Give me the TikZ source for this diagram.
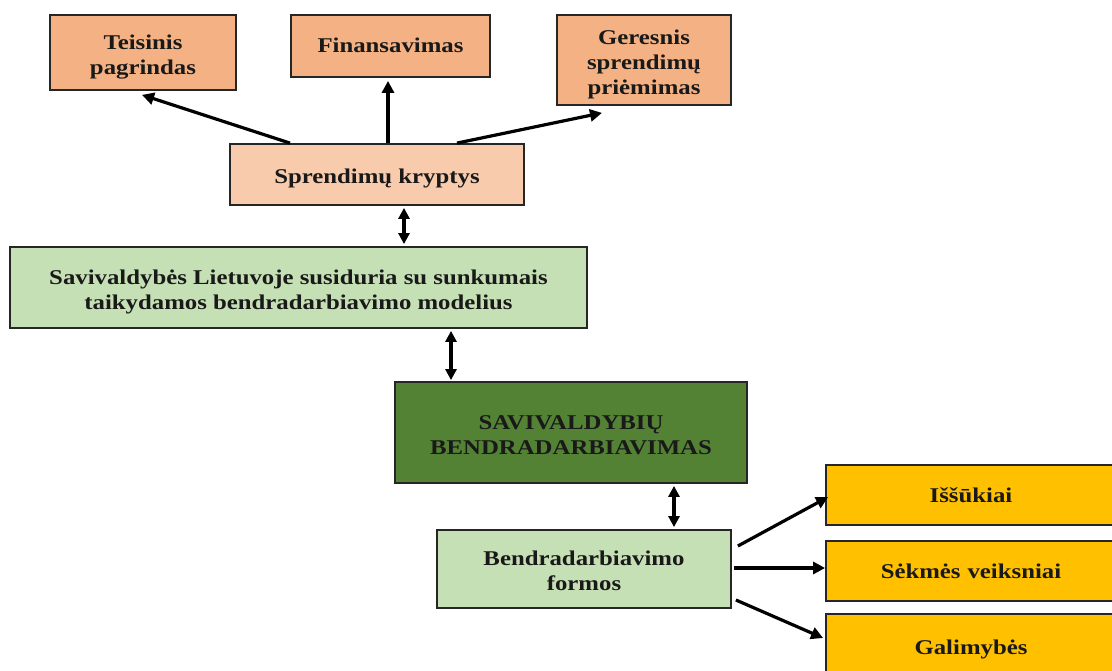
\documentclass[tikz,border=0pt]{standalone}
\usepackage{fontspec}
\setmainfont[FakeStretch=1.18]{Liberation Serif}
\usetikzlibrary{arrows.meta}
\definecolor{salmon}{HTML}{F4B183}
\definecolor{peach}{HTML}{F8CBAD}
\definecolor{lgreen}{HTML}{C5E0B4}
\definecolor{dgreen}{HTML}{548235}
\definecolor{gold}{HTML}{FFC000}
\newcommand\boxtxt[2][4pt]{\raisebox{-#1}[\height][\depth]{\begin{tabular}{@{}c@{}}#2\end{tabular}}}
\tikzset{
  box/.style={draw=black!85, line width=1.8pt, inner sep=0pt,
    font=\fontsize{21}{25}\selectfont\bfseries, text=black!90},
  arr/.style={line width=3.2pt, -{Triangle[length=12pt,width=12pt]}},
  darr/.style={line width=3.2pt, {Triangle[length=11pt,width=11pt]}-{Triangle[length=11pt,width=11pt]}}
}
\begin{document}
\begin{tikzpicture}[x=1pt,y=-1pt]
\useasboundingbox (0,0) rectangle (1112,671);
\clip (0,0) rectangle (1112,671);
\node[box, fill=salmon, minimum width=186pt, minimum height=75pt] (tp) at (143,52.5) {\boxtxt[5pt]{Teisinis\\pagrindas}};
\node[box, fill=salmon, minimum width=199pt, minimum height=62pt] (fi) at (390.5,46) {\boxtxt[2pt]{Finansavimas}};
\node[box, fill=salmon, minimum width=174pt, minimum height=90pt] (gs) at (644,60) {\boxtxt[5pt]{Geresnis\\sprendimų\\priėmimas}};
\node[box, fill=peach, minimum width=294pt, minimum height=61pt] (sk) at (377,174.5) {\boxtxt[4pt]{Sprendimų kryptys}};
\node[box, fill=lgreen, minimum width=577pt, minimum height=81pt] (sav) at (298.5,287.5) {\boxtxt[5pt]{Savivaldybės Lietuvoje susiduria su sunkumais\\taikydamos bendradarbiavimo modelius}};
\node[box, fill=dgreen, minimum width=352pt, minimum height=101pt] (sb) at (571,432.5) {\boxtxt[4pt]{SAVIVALDYBIŲ\\BENDRADARBIAVIMAS}};
\node[box, fill=lgreen, minimum width=294pt, minimum height=78pt] (bf) at (584,569) {\boxtxt[3.5pt]{Bendradarbiavimo\\formos}};
\node[box, fill=gold, minimum width=294pt, minimum height=60pt, text width=294pt, align=center] (is) at (973,495) {\hspace*{-4pt}\boxtxt[2pt]{Iššūkiai}};
\node[box, fill=gold, minimum width=294pt, minimum height=60pt, text width=294pt, align=center] (sv) at (973,571) {\hspace*{-4pt}\boxtxt[2pt]{Sėkmės veiksniai}};
\node[box, fill=gold, minimum width=294pt, minimum height=66pt, text width=294pt, align=center] (ga) at (973,647) {\hspace*{-4pt}\boxtxt[2pt]{Galimybės}};
% arrows
\draw[arr] ([xshift=-87pt]sk.north) -- ([xshift=-1pt,yshift=-4pt]tp.south);
\draw[arr] ([xshift=11pt]sk.north) -- ([xshift=-2.5pt,yshift=-3pt]fi.south);
\draw[arr] ([xshift=80pt]sk.north) -- ([xshift=-42pt,yshift=-7pt]gs.south);
\draw[darr] ([xshift=27pt,yshift=-2pt]sk.south) -- ([xshift=105.5pt,yshift=2pt]sav.north);
\draw[darr] ([xshift=152.5pt,yshift=-2pt]sav.south) -- ([xshift=-120pt,yshift=1pt]sb.north);
\draw[darr] ([xshift=103pt,yshift=-2pt]sb.south) -- ([xshift=90pt,yshift=2pt]bf.north);
\draw[arr] ([xshift=6pt,yshift=23pt]bf.east) -- ([xshift=3pt,yshift=-2pt]is.west);
\draw[arr] ([xshift=2pt,yshift=1pt]bf.east) -- ([xshift=0pt,yshift=3pt]sv.west);
\draw[arr] ([xshift=4pt,yshift=-31pt]bf.east) -- ([xshift=-2pt,yshift=9pt]ga.west);
\end{tikzpicture}
\end{document}
